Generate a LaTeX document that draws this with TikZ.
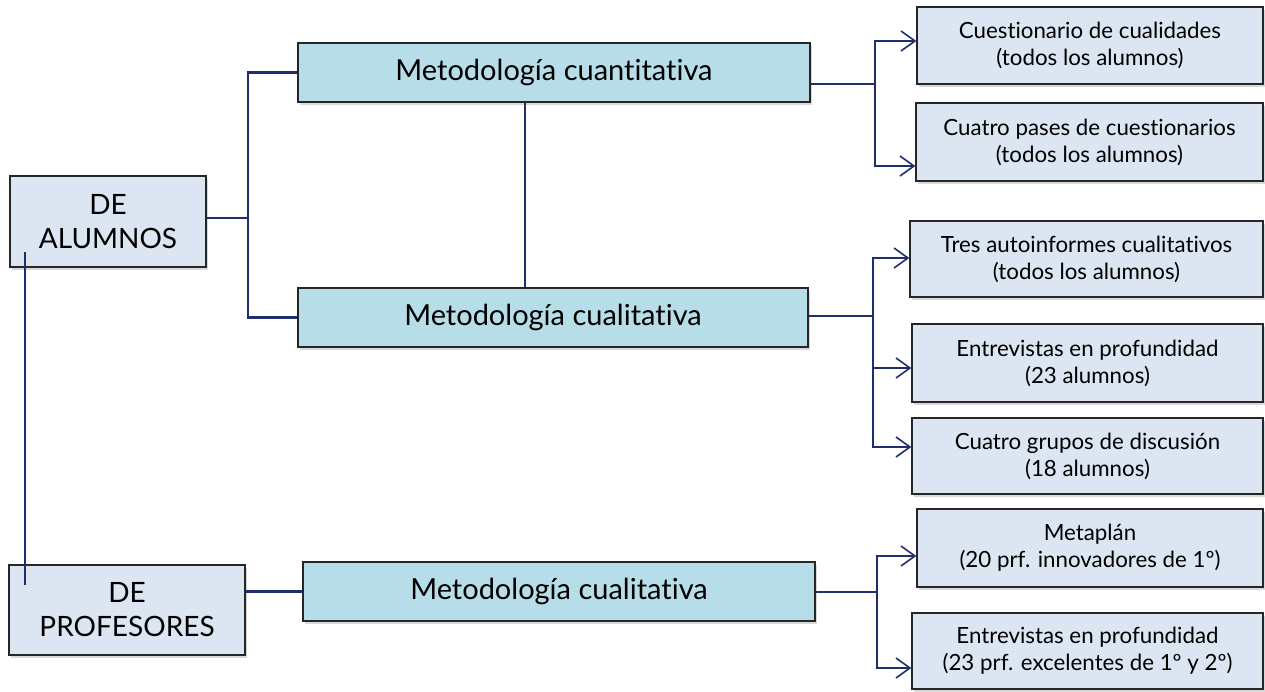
\documentclass[tikz,border=0pt]{standalone}
\usepackage{fontspec}
\setmainfont{Lato}[Ligatures=NoCommon]
\usetikzlibrary{arrows.meta,shadows}
\definecolor{linea}{HTML}{1F2F6E}
\definecolor{grupo}{HTML}{DCE6F2}
\definecolor{metodo}{HTML}{B7DEE8}

\begin{document}
\begin{tikzpicture}[x=1pt,y=-1pt,
  caja/.style={draw=black!85, line width=1.3pt, fill=grupo, align=center, inner sep=0pt,
    drop shadow={shadow xshift=2pt, shadow yshift=-3pt, opacity=0.3}},
  grupobox/.style={caja, font=\fontsize{28}{34}\selectfont},
  metodobox/.style={caja, fill=metodo, minimum height=59pt, font=\fontsize{29}{34}\selectfont},
  tecnica/.style={caja, font=\fontsize{22.3}{27}\selectfont},
  enlace/.style={draw=linea, line width=2.6pt},
  flecha/.style={draw=linea, line width=1.8pt, -{Straight Barb[length=14pt,width=20pt,line width=1.6pt]}}]
\useasboundingbox (0,0) rectangle (1265,691);

% grupos
\node[grupobox, minimum width=196pt, minimum height=91pt] (G1) at (108,221.5) {DE\\ALUMNOS};
\node[grupobox, minimum width=236pt, minimum height=90pt] (G2) at (127,610) {DE\\PROFESORES};

% metodologias
\node[metodobox, minimum width=512pt] (M1) at (554,72.5) {Metodología cuantitativa};
\node[metodobox, minimum width=510pt] (M2) at (553,317.5) {Metodología cualitativa};
\node[metodobox, minimum width=512pt] (M3) at (559,591.5) {Metodología cualitativa};

% tecnicas
\node[tecnica, minimum width=346pt, minimum height=77pt] (T1) at (1090,45.5) {Cuestionario de cualidades\\(todos los alumnos)};
\node[tecnica, minimum width=347pt, minimum height=78pt] (T2) at (1089.5,142) {Cuatro pases de cuestionarios\\(todos los alumnos)};
\node[tecnica, minimum width=353pt, minimum height=76pt] (T3) at (1086.5,259) {Tres autoinformes cualitativos\\(todos los alumnos)};
\node[tecnica, minimum width=351pt, minimum height=78pt] (T4) at (1087.5,363) {Entrevistas en profundidad\\(23 alumnos)};
\node[tecnica, minimum width=351pt, minimum height=76pt] (T5) at (1087.5,456) {Cuatro grupos de discusión\\(18 alumnos)};
\node[tecnica, minimum width=346pt, minimum height=78pt] (T6) at (1090,548) {Metaplán\\(20 prf. innovadores de 1º)};
\node[tecnica, minimum width=351pt, minimum height=76pt] (T7) at (1087.5,651) {Entrevistas en profundidad\\(23 prf. excelentes de 1º y 2º)};

% enlaces de la izquierda
\coordinate (A1) at (248,218);
\coordinate (C1) at (525,0);
\coordinate (P1) at (25,252);
\coordinate (P2) at (25,585);
\draw[enlace] (G1.east |- A1) -- (A1);
\draw[enlace] (M1.west) -| (A1) |- (M2.west);
\draw[enlace] (M1.south -| C1) -- (M2.north -| C1);
\draw[enlace] (P1) -- (P2);
\draw[enlace] (G2.east |- M3.west) -- (M3.west);

% flechas de la derecha
\coordinate (B1) at (875,84);
\coordinate (B2) at (873,316);
\coordinate (B3) at (877,592);
\draw[flecha, -] (M1.east |- B1) -- (B1);
\draw[flecha] (B1) |- ([yshift=4.5pt]T1.west);
\draw[flecha] (B1) |- ([yshift=-24pt]T2.west);
\draw[flecha, -] (M2.east |- B2) -- (B2);
\draw[flecha] (B2) |- ([yshift=1pt]T3.west);
\draw[flecha] (B2) |- ([yshift=-5pt]T4.west);
\draw[flecha] (B2) |- ([yshift=9pt]T5.west);
\draw[flecha, -] (M3.east |- B3) -- (B3);
\draw[flecha] (B3) |- ([yshift=-8pt]T6.west);
\draw[flecha] (B3) |- ([yshift=-17pt]T7.west);
\end{tikzpicture}
\end{document}
